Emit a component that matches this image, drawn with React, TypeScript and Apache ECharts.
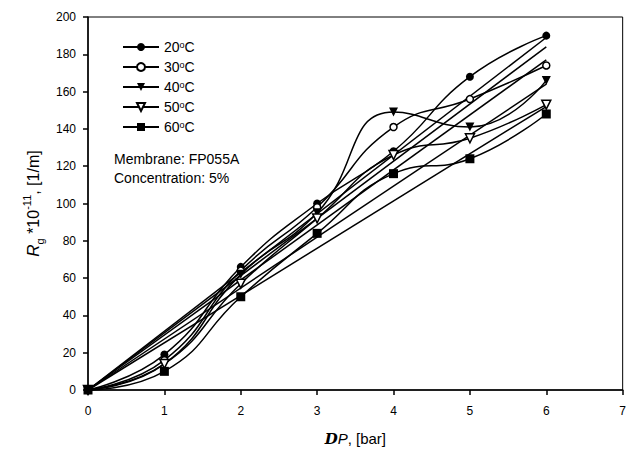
import React, { useEffect, useRef } from "react";
import * as echarts from "echarts";

const pressures = [0, 1, 2, 3, 4, 5, 6];
const temps = ["20", "30", "40", "50", "60"];
const r20 = [0, 19, 66, 100, 128, 168, 190];
const r30 = [0, 16, 64, 98, 141, 156, 174];
const r40 = [0, 14, 62, 95, 149, 141, 166];
const r50 = [0, 14, 57, 92, 126, 135, 153];
const r60 = [0, 10, 50, 84, 116, 124, 148];
const fitEnd = [189, 184, 177, 164, 152];

const seriesValues = [r20, r30, r40, r50, r60];
const symbols = ["circle", "circle", "triangle", "triangle", "rect"];
const filled = [true, false, true, false, true];
const rotations = [0, 0, 180, 180, 0];
const sizes = [8, 7, 9, 9, 9];

export default function App() {
  const ref = useRef<HTMLDivElement>(null);
  useEffect(() => {
    if (!ref.current) return;
    const chart = echarts.init(ref.current, undefined, { renderer: "svg" });
    const font = "Liberation Sans, Arial, sans-serif";
    const series: any[] = [];
    temps.forEach((t, i) => {
      series.push({
        name: t,
        type: "line",
        smooth: 0.5,
        data: pressures.map((p, k) => [p, seriesValues[i][k]]),
        symbol: symbols[i],
        symbolSize: sizes[i],
        symbolRotate: rotations[i],
        showAllSymbol: true,
        lineStyle: { color: "#000", width: 1.5 },
        itemStyle: {
          color: filled[i] ? "#000" : "#fff",
          borderColor: "#000",
          borderWidth: filled[i] ? 0 : 1.5,
        },
        z: 3,
      });
    });
    temps.forEach((t, i) => {
      series.push({
        name: "fit" + t,
        type: "line",
        data: [
          [pressures[0], 0],
          [pressures[pressures.length - 1], fitEnd[i]],
        ],
        symbol: "none",
        silent: true,
        lineStyle: { color: "#000", width: 1.5 },
        z: 2,
      });
    });
    chart.setOption({
      animation: false,
      backgroundColor: "#fff",
      grid: {
        left: 88,
        right: 5,
        top: 17,
        bottom: 67,
        show: true,
        borderColor: "#000",
        borderWidth: 1,
      },
      legend: {
        data: temps,
        orient: "vertical",
        left: 117,
        top: 35,
        itemWidth: 36,
        itemHeight: 10,
        itemGap: 6,
        formatter: (n: string) => n + "{sup|o}C",
        textStyle: {
          fontFamily: font,
          fontSize: 14,
          lineHeight: 14,
          color: "#000",
          rich: {
            sup: { fontSize: 9, verticalAlign: "top", lineHeight: 14, fontFamily: font, color: "#000" },
          },
        },
      },
      xAxis: {
        type: "value",
        min: 0,
        max: 7,
        interval: 1,
        axisLine: { lineStyle: { color: "#000", width: 1.5 } },
        axisTick: { inside: false, length: 5, lineStyle: { color: "#000", width: 1.5 } },
        axisLabel: { color: "#000", fontFamily: font, fontSize: 12, margin: 15 },
        splitLine: { show: false },
        name: "{b|D}{i|P}{n|, [bar]}",
        nameLocation: "middle",
        nameGap: 41,
        nameTextStyle: {
          fontSize: 15,
          fontFamily: font,
          color: "#000",
          rich: {
            b: { fontFamily: "DejaVu Serif, serif", fontStyle: "italic", fontWeight: "bold", fontSize: 15, color: "#000" },
            i: { fontFamily: font, fontStyle: "italic", fontSize: 15, color: "#000" },
            n: { fontFamily: font, fontSize: 15, color: "#000" },
          },
        },
      },
      yAxis: {
        type: "value",
        min: 0,
        max: 200,
        interval: 20,
        axisLine: { show: true, lineStyle: { color: "#000", width: 1.5 } },
        axisTick: { show: true, inside: false, length: 5, lineStyle: { color: "#000", width: 1.5 } },
        axisLabel: { color: "#000", fontFamily: font, fontSize: 12, margin: 12 },
        splitLine: { show: false },
        name: "{i|R}{sub|g}{n| *10}{sup|-11}{n|, [1/m]}",
        nameLocation: "middle",
        nameRotate: 90,
        nameGap: 38,
        nameTextStyle: {
          fontSize: 16,
          fontFamily: font,
          color: "#000",
          rich: {
            i: { fontFamily: font, fontStyle: "italic", fontSize: 17, color: "#000", lineHeight: 24 },
            n: { fontFamily: font, fontSize: 16, color: "#000", lineHeight: 24 },
            sub: { fontFamily: font, fontSize: 11, color: "#000", verticalAlign: "bottom", lineHeight: 24 },
            sup: { fontFamily: font, fontSize: 11, color: "#000", verticalAlign: "top", lineHeight: 24 },
          },
        },
      },
      graphic: [
        {
          type: "text",
          left: 114,
          top: 152,
          style: { text: "Membrane: FP055A", fontFamily: font, fontSize: 14, fill: "#000" },
        },
        {
          type: "text",
          left: 114,
          top: 171,
          style: { text: "Concentration: 5%", fontFamily: font, fontSize: 14, fill: "#000" },
        },
      ],
      series,
    });
    return () => chart.dispose();
  }, []);
  return <div ref={ref} style={{ width: 629, height: 457, position: "absolute", left: 0, top: 0 }} />;
}
